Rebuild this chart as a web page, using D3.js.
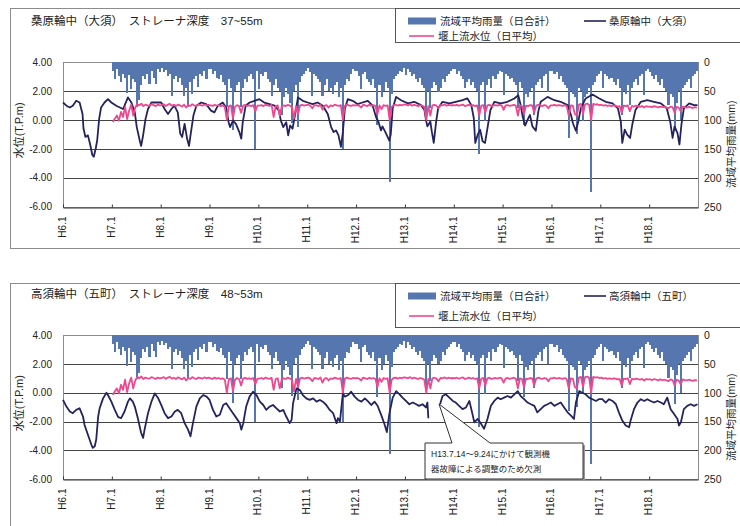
<!DOCTYPE html>
<html>
<head>
<meta charset="utf-8">
<script src="https://cdn.jsdelivr.net/npm/d3@7"></script>
<style>
  body { margin: 0; background: #fff; }
  text { font-family: "Liberation Sans", "Noto Sans CJK JP", sans-serif; fill: #222; }
</style>
</head>
<body>
<svg id="chart" width="740" height="526"></svg>
<script>
// ---- data ----------------------------------------------------------------
// x tick labels (Heisei year . month)
const tickLabels = ["H6.1","H7.1","H8.1","H9.1","H10.1","H11.1","H12.1","H13.1","H14.1","H15.1","H16.1","H17.1","H18.1"];
const levelTicks = [4, 2, 0, -2, -4, -6];
const rainTicks = [0, 50, 100, 150, 200, 250];

// basin average rainfall, largest daily total per half month (mm), H7.1 - H18.12
const rainfall = [
  15,30,12,25,35,20,28,53,22,47,30,35,77,65,40,25,30,20,38,15,28,38,12,18,   // H7
  10,18,14,25,20,59,30,25,35,28,40,59,45,77,35,56,30,25,44,20,25,15,30,12,   // H8
  12,20,15,28,30,22,35,40,77,30,45,118,50,40,35,77,45,30,35,25,20,30,150,15, // H9
  47,20,25,18,30,35,59,40,30,45,50,91,60,45,55,70,106,50,40,112,35,25,20,15, // H10
  10,18,59,20,25,30,35,59,40,30,50,45,55,40,35,60,45,150,40,30,32,20,12,15,  // H11
  15,25,47,20,18,30,35,40,30,45,108,40,60,50,35,45,207,55,30,25,20,15,18,10, // H12
  23,12,18,25,20,30,35,28,40,45,97,50,80,45,35,40,51,45,30,35,25,20,15,12,   // H13
  12,20,15,25,30,45,35,30,40,35,45,50,159,40,35,102,40,30,45,25,30,20,15,18, // H14
  57,20,25,30,28,35,40,80,35,45,108,55,60,50,45,91,40,35,30,45,25,20,51,15,  // H15
  15,20,18,30,25,35,40,45,131,50,55,60,125,45,50,102,60,55,45,224,40,35,25,20, // H16
  15,45,20,25,30,28,35,40,30,45,91,50,55,40,74,45,35,30,40,25,20,57,15,12,   // H17
  18,25,30,22,35,40,30,45,50,74,55,60,119,70,50,100,45,40,35,30,45,25,20,15  // H18
];

// water level above the weir, half-monthly (T.P.m), H7.1 - H18.12
const weirLevel = [
  -0.15,0.10,0.30,-0.05,0.55,0.20,0.90,0.05,0.65,1.05,0.30,0.85,1.10,1.00,1.12,0.95,1.05,1.00,0.98,1.08,1.02,0.95,1.05,1.00,
  1.02,1.08,0.96,1.05,1.10,0.98,1.04,0.95,1.06,1.00,0.92,1.05,0.85,1.02,0.96,1.08,1.00,0.95,1.05,1.02,0.98,1.06,1.00,1.04,
  1.00,0.96,1.05,0.98,1.02,0.95,1.00,0.90,0.00,0.95,1.00,0.10,0.90,1.02,0.95,0.50,0.98,1.04,0.96,1.00,0.95,1.02,0.60,0.98,
  0.98,1.02,0.95,1.05,1.00,0.96,1.04,0.20,0.95,1.00,0.30,0.92,1.00,0.95,1.05,0.98,0.90,0.10,0.95,0.40,1.00,1.04,0.98,1.02,
  1.05,0.98,0.80,1.02,1.00,0.95,1.05,0.70,0.98,1.02,0.85,1.00,0.95,1.05,1.00,0.96,1.02,0.00,0.98,1.05,1.00,0.96,1.02,1.00,
  1.02,0.98,0.85,1.05,1.00,0.95,1.04,0.98,1.02,0.95,0.40,1.00,0.75,1.02,0.96,1.00,0.00,0.90,1.02,1.05,0.98,1.04,1.00,1.06,
  1.05,1.00,1.08,0.98,1.04,1.00,0.95,1.02,0.98,0.90,0.00,0.95,0.30,1.00,1.04,0.98,0.80,1.02,1.00,1.06,0.98,1.04,1.00,1.02,
  1.00,1.04,0.98,1.02,1.06,0.95,1.00,1.04,0.98,1.02,0.95,1.00,0.30,0.98,1.02,0.50,1.00,1.04,0.95,1.00,1.02,0.98,1.04,1.00,
  0.70,1.00,1.02,0.96,1.00,1.04,0.98,0.30,1.00,0.95,0.40,0.98,0.95,1.02,1.00,0.50,0.98,1.04,1.00,0.95,1.02,0.98,0.80,1.00,
  1.00,1.04,0.98,1.02,1.00,0.96,1.02,0.95,0.30,1.00,0.98,0.40,0.30,1.05,1.10,0.40,1.08,1.12,1.05,0.00,1.10,1.05,1.08,1.02,
  1.05,0.98,1.02,0.96,1.00,0.95,1.00,0.98,0.92,0.95,0.50,0.98,0.95,1.00,0.60,0.96,0.92,0.98,0.95,0.90,0.96,0.85,0.95,0.92,
  0.92,0.88,0.95,0.90,0.86,0.92,0.88,0.90,0.85,0.80,0.92,0.88,0.50,0.90,0.85,0.60,0.92,0.88,0.85,0.90,0.86,0.82,0.88,0.85
];

// groundwater level, Kuwabara (Osu) well: [year, T.P.m]
const kuwabaraLevel = [
  [1994.00,1.20],[1994.07,0.98],[1994.14,0.86],[1994.20,0.98],[1994.27,1.32],[1994.34,1.20],[1994.40,0.41],[1994.42,-0.61],[1994.46,-1.18],[1994.51,-1.07],[1994.56,-1.75],[1994.60,-2.43],[1994.63,-2.55],[1994.67,-1.98],[1994.70,-1.41],[1994.74,0.07],[1994.78,0.86],[1994.85,1.20],[1994.92,1.43],[1994.99,1.20],
  [1995.09,0.98],[1995.23,0.75],[1995.33,1.55],[1995.40,1.20],[1995.47,0.52],[1995.51,-0.50],[1995.57,-1.41],[1995.60,-1.80],[1995.64,-1.07],[1995.69,0.07],[1995.74,0.75],[1995.81,1.20],[1995.91,1.20],
  [1996.01,1.20],[1996.08,0.75],[1996.15,0.41],[1996.22,0.75],[1996.28,0.98],[1996.35,0.52],[1996.40,-0.95],[1996.44,-1.18],[1996.49,-0.27],[1996.54,-1.29],[1996.58,-1.80],[1996.62,-0.84],[1996.67,0.30],[1996.73,0.98],[1996.83,1.20],[1996.93,1.09],
  [1997.03,0.64],[1997.10,0.52],[1997.17,0.98],[1997.27,1.20],[1997.34,0.86],[1997.39,-0.16],[1997.42,-0.50],[1997.48,-0.05],[1997.54,-0.27],[1997.61,-0.84],[1997.65,-1.30],[1997.68,-0.16],[1997.74,0.98],[1997.82,1.20],[1997.92,1.32],
  [1998.02,1.43],[1998.12,1.20],[1998.23,1.09],[1998.33,0.98],[1998.42,0.64],[1998.46,-0.05],[1998.51,-0.50],[1998.57,-0.16],[1998.61,-1.07],[1998.65,-0.39],[1998.70,-0.61],[1998.76,0.52],[1998.81,1.55],[1998.91,1.32],
  [1999.01,1.20],[1999.11,1.09],[1999.21,1.20],[1999.32,0.98],[1999.42,0.41],[1999.49,-0.50],[1999.54,-0.84],[1999.59,-0.73],[1999.64,-1.07],[1999.69,-1.86],[1999.73,-0.84],[1999.77,0.75],[1999.83,1.43],[1999.93,1.32],
  [2000.03,1.09],[2000.13,1.20],[2000.24,1.32],[2000.34,0.98],[2000.41,0.18],[2000.46,-0.16],[2000.51,-0.73],[2000.54,-0.45],[2000.61,-0.91],[2000.68,-1.43],[2000.71,-1.02],[2000.75,0.80],[2000.82,1.59],[2000.92,1.36],
  [2001.06,1.14],[2001.19,1.25],[2001.33,1.02],[2001.40,0.68],[2001.43,0.00],[2001.46,-0.45],[2001.52,-0.11],[2001.55,-0.80],[2001.59,-1.59],[2001.64,-0.11],[2001.68,0.80],[2001.77,1.25],[2001.91,1.14],
  [2002.04,1.25],[2002.18,1.36],[2002.28,1.48],[2002.36,1.02],[2002.41,0.11],[2002.44,-1.59],[2002.49,-1.02],[2002.54,-0.68],[2002.59,-1.48],[2002.64,-1.59],[2002.69,-0.57],[2002.75,0.68],[2002.83,1.25],[2002.96,1.14],
  [2003.10,1.25],[2003.24,1.48],[2003.32,1.70],[2003.37,1.02],[2003.41,0.23],[2003.46,-0.39],[2003.51,0.00],[2003.56,0.34],[2003.61,-0.45],[2003.68,-0.75],[2003.73,0.57],[2003.78,1.25],[2003.92,1.59],
  [2004.06,1.36],[2004.19,1.25],[2004.33,1.02],[2004.40,0.34],[2004.44,-0.23],[2004.50,-0.75],[2004.55,-0.11],[2004.60,0.80],[2004.70,1.48],[2004.84,1.75],[2004.98,1.48],
  [2005.11,1.25],[2005.25,1.14],[2005.36,0.80],[2005.42,-0.11],[2005.45,-1.59],[2005.50,-0.68],[2005.55,-1.02],[2005.61,-1.25],[2005.66,-0.23],[2005.72,0.68],[2005.83,1.25],[2005.96,1.36],
  [2006.10,1.25],[2006.24,1.14],[2006.36,0.80],[2006.43,-0.11],[2006.48,-1.25],[2006.52,-0.45],[2006.58,-0.91],[2006.62,-1.70],[2006.66,-0.34],[2006.71,0.80],[2006.82,1.14],[2006.92,1.02],[2006.99,1.02]
];

// groundwater level, Takasu (Gocho) well: [year, T.P.m]; null marks the missing period
const takasuLevel = [
  [1994.00,-0.50],[1994.07,-0.96],[1994.14,-1.30],[1994.20,-1.42],[1994.27,-1.19],[1994.34,-1.08],[1994.41,-1.65],[1994.44,-2.22],[1994.51,-2.91],[1994.58,-3.59],[1994.61,-3.82],[1994.65,-3.71],[1994.68,-3.25],[1994.72,-1.65],[1994.75,-1.08],[1994.82,-0.39],[1994.89,0.00],[1994.92,-0.16],[1994.99,-0.62],
  [1995.06,-1.19],[1995.13,-1.69],[1995.19,-1.76],[1995.26,-1.30],[1995.33,-0.62],[1995.37,-0.39],[1995.43,-0.62],[1995.47,-0.96],[1995.54,-1.88],[1995.60,-2.79],[1995.64,-3.13],[1995.67,-2.56],[1995.74,-1.42],[1995.81,-0.62],[1995.88,-0.05],[1995.95,-0.39],
  [1996.01,-0.85],[1996.08,-1.42],[1996.15,-1.76],[1996.22,-1.65],[1996.29,-1.30],[1996.35,-1.19],[1996.42,-1.42],[1996.49,-2.11],[1996.56,-2.56],[1996.61,-3.02],[1996.66,-2.11],[1996.73,-0.96],[1996.80,-0.39],[1996.87,-0.16],[1996.94,-0.27],
  [1997.00,-0.50],[1997.07,-1.19],[1997.14,-1.65],[1997.21,-1.53],[1997.28,-0.85],[1997.34,-0.73],[1997.41,-1.08],[1997.48,-1.42],[1997.55,-1.76],[1997.62,-2.11],[1997.65,-2.56],[1997.69,-2.11],[1997.75,-0.96],[1997.82,-0.27],[1997.89,0.07],[1997.96,-0.16],
  [1998.03,-0.62],[1998.10,-0.85],[1998.16,-1.19],[1998.23,-0.96],[1998.30,-0.85],[1998.37,-1.08],[1998.44,-1.30],[1998.51,-1.19],[1998.57,-1.65],[1998.64,-2.11],[1998.68,-1.88],[1998.71,-0.73],[1998.78,0.30],[1998.85,0.18],[1998.91,-0.16],[1998.98,-0.39],
  [1999.05,-0.50],[1999.12,-0.39],[1999.19,-0.62],[1999.26,-0.50],[1999.32,-0.62],[1999.39,-0.85],[1999.46,-1.19],[1999.53,-1.42],[1999.60,-2.11],[1999.63,-1.76],[1999.67,-1.99],[1999.73,-0.05],[1999.77,-0.27],[1999.84,-0.16],[1999.90,0.07],[1999.97,-0.27],
  [2000.04,-0.50],[2000.11,-0.62],[2000.18,-0.39],[2000.25,-0.62],[2000.31,-0.85],[2000.38,-0.62],[2000.44,-0.90],[2000.51,-1.50],[2000.58,-2.16],[2000.63,-2.73],[2000.68,-1.48],[2000.75,-0.34],[2000.82,0.11],[2000.89,-0.11],[2000.95,-0.34],
  [2001.02,-0.57],[2001.09,-0.80],[2001.16,-0.68],[2001.23,-0.80],[2001.29,-0.91],[2001.36,-0.80],[2001.43,-1.02],[2001.46,-0.68],[2001.48,-1.77],[2001.50,null],
  [2001.72,-0.80],[2001.77,-0.23],[2001.84,-0.11],[2001.91,-0.34],[2001.98,-0.57],
  [2002.04,-0.68],[2002.11,-0.91],[2002.18,-1.14],[2002.25,-1.02],[2002.32,-0.57],[2002.39,-1.59],[2002.42,-2.05],[2002.49,-1.82],[2002.56,-2.16],[2002.62,-2.50],[2002.69,-1.82],[2002.76,-0.91],[2002.83,-0.57],[2002.90,-0.34],[2002.96,-0.45],
  [2003.03,-0.34],[2003.10,-0.23],[2003.17,-0.34],[2003.24,-0.11],[2003.31,0.11],[2003.37,-0.23],[2003.44,-0.45],[2003.51,-0.68],[2003.58,-0.80],[2003.65,-0.91],[2003.71,-1.36],[2003.78,-1.14],[2003.85,-0.91],[2003.92,-0.80],[2003.99,-0.68],
  [2004.06,-0.91],[2004.12,-0.80],[2004.19,-0.68],[2004.26,-1.02],[2004.33,-1.36],[2004.40,-1.59],[2004.46,-1.82],[2004.50,-0.68],[2004.57,0.11],[2004.63,0.00],[2004.70,-0.11],[2004.77,-0.34],[2004.84,-0.45],[2004.91,-0.57],[2004.97,-0.45],
  [2005.04,-0.45],[2005.11,-0.68],[2005.18,-0.45],[2005.25,-0.57],[2005.32,-0.80],[2005.38,-1.36],[2005.45,-1.93],[2005.52,-2.27],[2005.59,-2.39],[2005.62,-1.93],[2005.69,-1.14],[2005.76,-0.68],[2005.83,-0.45],[2005.90,-0.57],[2005.96,-0.45],
  [2006.03,-0.57],[2006.10,-0.68],[2006.17,-0.57],[2006.24,-0.68],[2006.30,-0.80],[2006.37,-0.34],[2006.44,-1.14],[2006.51,-1.48],[2006.58,-1.82],[2006.61,-2.27],[2006.65,-2.05],[2006.71,-1.14],[2006.78,-0.91],[2006.85,-0.80],[2006.92,-0.91],[2006.99,-0.80]
];

// ---- drawing ---------------------------------------------------------------
const svg = d3.select("#chart");
const C = { rain: "#5676b0", well: "#23235e", weir: "#f0478f", grid: "#444", frame: "#8c8c8c" };
const halfMonth = i => 1995 + (i + 0.5) / 24;
const x = d3.scaleLinear().domain([1994, 2007]).range([63, 698]);
const barW = x(1995 + 1 / 24) - x(1995);

function drawPanel(cfg) {
  const g = svg.append("g");
  const y = d3.scaleLinear().domain([-6, 4]).range([cfg.bottom, cfg.top]);
  const r = d3.scaleLinear().domain([0, 250]).range([cfg.top, cfg.bottom]);

  // outer frame of the panel
  g.append("rect").attr("x", 10.5).attr("y", cfg.frameTop + 0.5)
    .attr("width", 760).attr("height", cfg.frameH)
    .attr("fill", "none").attr("stroke", C.frame);

  g.append("text").attr("x", 31).attr("y", cfg.titleY)
    .style("font-size", "11.5px").text(cfg.title);

  // legend box
  g.append("rect").attr("x", 395.5).attr("y", cfg.frameTop + 0.5)
    .attr("width", 370).attr("height", cfg.legH)
    .attr("fill", "#fff").attr("stroke", "#555");
  g.append("rect").attr("x", 408).attr("y", cfg.leg1 - 3.5).attr("width", 28).attr("height", 7).attr("fill", C.rain);
  g.append("text").attr("x", 440).attr("y", cfg.leg1).attr("dy", "0.36em").style("font-size", "10.5px").text("流域平均雨量（日合計）");
  g.append("line").attr("x1", 584).attr("x2", 606).attr("y1", cfg.leg1).attr("y2", cfg.leg1).attr("stroke", C.well).attr("stroke-width", 1.6);
  g.append("text").attr("x", 609).attr("y", cfg.leg1).attr("dy", "0.36em").style("font-size", "10.5px").text(cfg.wellName);
  g.append("line").attr("x1", 409).attr("x2", 434).attr("y1", cfg.leg2).attr("y2", cfg.leg2).attr("stroke", C.weir).attr("stroke-width", 1.6);
  g.append("text").attr("x", 438).attr("y", cfg.leg2).attr("dy", "0.36em").style("font-size", "10.5px").text("堰上流水位（日平均）");

  // horizontal gridlines
  g.append("g").selectAll("line").data([2, 0, -2, -4]).join("line")
    .attr("x1", x(1994)).attr("x2", x(2007))
    .attr("y1", d => Math.round(y(d)) + 0.5).attr("y2", d => Math.round(y(d)) + 0.5)
    .attr("stroke", C.grid).attr("stroke-width", 1);

  // plot area border
  g.append("rect").attr("x", Math.round(x(1994)) + 0.5).attr("y", Math.round(cfg.top) + 0.5)
    .attr("width", Math.round(x(2007) - x(1994))).attr("height", Math.round(cfg.bottom - cfg.top))
    .attr("fill", "none").attr("stroke", C.frame);

  // rainfall bars hanging from the top
  g.append("g").attr("shape-rendering", "crispEdges")
    .selectAll("rect").data(rainfall).join("rect")
    .attr("x", (d, i) => x(halfMonth(i)) - barW / 2).attr("width", barW)
    .attr("y", r(0)).attr("height", d => r(d) - r(0))
    .attr("fill", C.rain);

  // groundwater level
  g.append("path").datum(cfg.well)
    .attr("d", d3.line().defined(d => d[1] !== null).x(d => x(d[0])).y(d => y(d[1])))
    .attr("fill", "none").attr("stroke", C.well).attr("stroke-width", 1.8).attr("stroke-linejoin", "round");

  // water level above the weir
  g.append("path").datum(weirLevel)
    .attr("d", d3.line().x((d, i) => x(halfMonth(i))).y(d => y(d)))
    .attr("fill", "none").attr("stroke", C.weir).attr("stroke-width", 1.8).attr("stroke-linejoin", "round");

  // left axis
  const la = g.append("g").attr("transform", `translate(${x(1994)},0)`)
    .call(d3.axisLeft(y).tickValues(levelTicks).tickSize(0).tickPadding(11).tickFormat(d => d.toFixed(2)));
  la.select(".domain").remove();
  la.selectAll("text").style("font-size", "10px").style("font-family", null);

  // right axis
  const ra = g.append("g").attr("transform", `translate(${x(2007)},0)`)
    .call(d3.axisRight(r).tickValues(rainTicks).tickSize(0).tickPadding(6));
  ra.select(".domain").remove();
  ra.selectAll("text").style("font-size", "10.5px").style("font-family", null);

  // bottom axis with rotated labels
  const ba = g.append("g").attr("transform", `translate(0,${Math.round(cfg.bottom) + 0.5})`)
    .call(d3.axisBottom(x).tickValues(d3.range(1994, 2007)).tickSizeInner(-3).tickSizeOuter(0)
      .tickFormat((d, i) => tickLabels[i]));
  ba.select(".domain").attr("stroke", "#333");
  ba.selectAll(".tick line").attr("stroke", "#333");
  ba.selectAll("text")
    .style("font-size", "10px").style("font-family", null)
    .attr("text-anchor", "end").attr("dy", null).attr("y", null)
    .attr("transform", "translate(-1,9) rotate(-90)")
    .attr("dominant-baseline", "central");

  // axis titles
  const mid = (cfg.top + cfg.bottom) / 2;
  g.append("text").attr("transform", `translate(19,${mid - 4}) rotate(-90)`)
    .attr("text-anchor", "middle").attr("dominant-baseline", "central")
    .style("font-size", "11px").text("水位(T.P.m)");
  g.append("text").attr("transform", `translate(731,${mid + 10}) rotate(-90)`)
    .attr("text-anchor", "middle").attr("dominant-baseline", "central")
    .style("font-size", "10.5px").text("流域平均雨量(mm)");

  return { g, y };
}

drawPanel({
  frameTop: 8, frameH: 240, titleY: 25, legH: 34, leg1: 21, leg2: 36,
  top: 62, bottom: 206.7,
  title: "桑原輪中（大須）　ストレーナ深度　37~55m",
  wellName: "桑原輪中（大須）", well: kuwabaraLevel
});

const p2 = drawPanel({
  frameTop: 283, frameH: 260, titleY: 298, legH: 44, leg1: 296, leg2: 316,
  top: 335, bottom: 479.3,
  title: "高須輪中（五町）　ストレーナ深度　48~53m",
  wellName: "高須輪中（五町）", well: takasuLevel
});

// callout about the missing observations
const note = p2.g.append("g");
const shape = "M425,443 L452,443 L439,404 L490,443 L583,443 L583,479 L425,479 Z";
note.append("path").attr("d", shape).attr("transform", "translate(2,2)").attr("fill", "#999");
note.append("path").attr("d", shape).attr("fill", "#fff").attr("stroke", "#333").attr("stroke-width", 1);
note.append("text").attr("x", 431).attr("y", 457).style("font-size", "8.5px").text("H13.7.14～9.24にかけて観測機");
note.append("text").attr("x", 431).attr("y", 472).style("font-size", "8.5px").text("器故障による調整のため欠測");
</script>
</body>
</html>
